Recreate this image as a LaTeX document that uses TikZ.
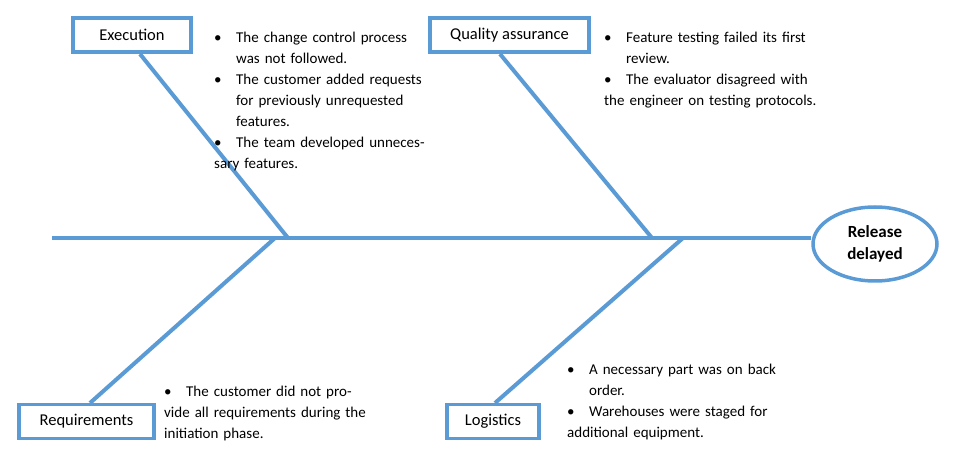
\documentclass[tikz,border=0pt]{standalone}
\usepackage{fontspec}
\setmainfont{Carlito}
\usetikzlibrary{shapes.geometric}
\definecolor{fb}{RGB}{91,155,213}
\newcommand{\bul}[1]{\par\hyphenpenalty=10000\exhyphenpenalty=10000\hangindent=22pt\hangafter=1\noindent\makebox[22pt][l]{\textbullet}#1}
\begin{document}
\begin{tikzpicture}[x=1pt,y=-1pt,
  bone/.style={draw=fb,line width=4pt},
  box/.style={draw=fb,line width=3.5pt,fill=white,font=\fontsize{16.5}{18}\selectfont,minimum height=34pt,inner sep=0pt},
  txt/.style={anchor=north west,inner sep=0pt,align=left,font=\fontsize{15}{21}\selectfont}]
\useasboundingbox (0,0) rectangle (970,462);
\coordinate (s0) at (52,238);
\node[ellipse,draw=fb,line width=3.5pt,minimum width=124pt,minimum height=74pt,align=center,font=\fontsize{17}{22}\selectfont\bfseries] (eff) at (875,244) {Release\\delayed};
\draw[bone] (s0) -- (eff.west|-s0);
\coordinate (j1) at (288,238);
\coordinate (j2) at (652,238);
\coordinate (j3) at (275,238);
\coordinate (j4) at (683,238);
\draw[bone] (140,54) -- (j1);
\draw[bone] (500,54) -- (j2);
\draw[bone] (90,403) -- (j3);
\draw[bone] (495,403) -- (j4);
\node[box,minimum width=118pt] (ex) at (132,35) {Execution};
\node[box,minimum width=159pt] (qa) at (509.5,35) {Quality assurance};
\node[box,minimum width=135pt] (rq) at (86.5,421.5) {Requirements};
\node[box,minimum width=92pt] (lg) at (493,421.5) {Logistics};
\node[txt,text width=212pt] (t1) at (214,21) {\bul{The change control process was not followed.}\bul{The customer added requests for previously unrequested features.}\bul{The team developed unnecessary features.}};
\node[txt,text width=228pt] (t2) at (604,21) {\bul{Feature testing failed its first review.}\bul{The evaluator disagreed with the engineer on testing protocols.}};
\node[txt,text width=202pt] (t3) at (164,375) {\bul{The customer did not provide all requirements during the initiation phase.}};
\node[txt,text width=212pt] (t4) at (567,353) {\bul{A necessary part was on back order.}\bul{Warehouses were staged for additional equipment.}};
\end{tikzpicture}
\end{document}
